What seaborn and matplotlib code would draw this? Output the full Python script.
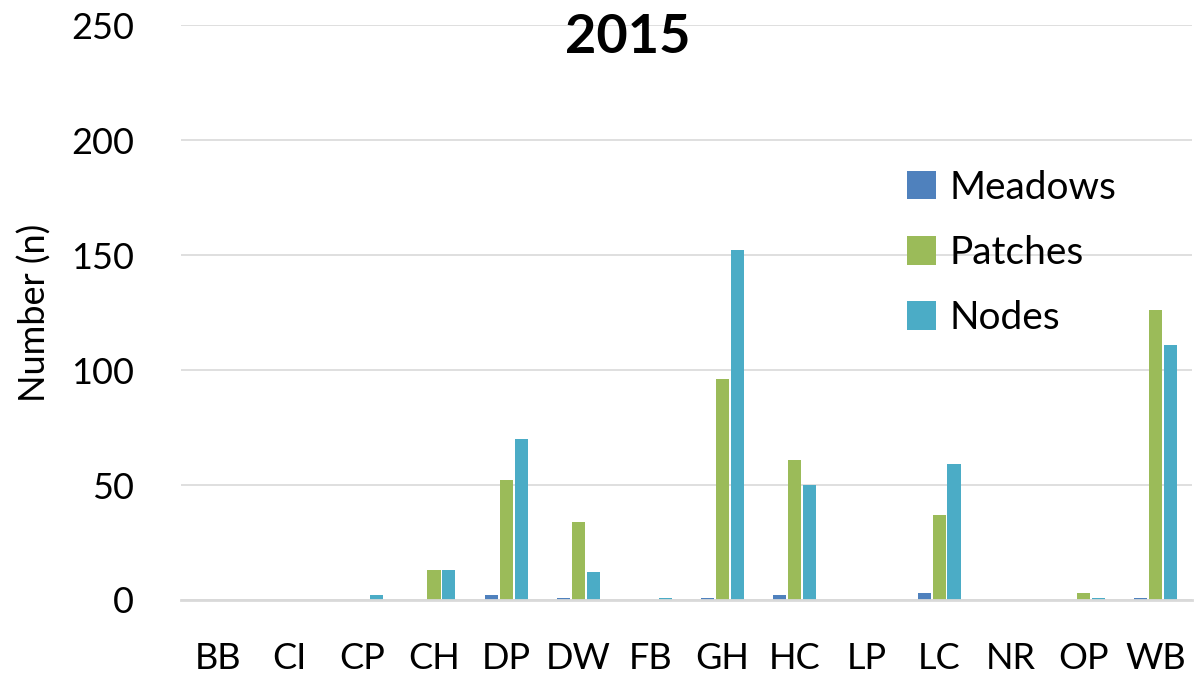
import pandas as pd
import matplotlib.pyplot as plt
import seaborn as sns

# Data
sites = ['BB', 'CI', 'CP', 'CH', 'DP', 'DW', 'FB', 'GH', 'HC', 'LP', 'LC', 'NR', 'OP', 'WB']
meadows = [0, 0, 0, 0, 2, 1, 0, 1, 2, 0, 3, 0, 0, 1]
patches = [0, 0, 0, 13, 52, 34, 0, 96, 61, 0, 37, 0, 3, 126]
nodes = [0, 0, 2, 13, 70, 12, 1, 152, 50, 0, 59, 0, 1, 111]

series = ['Meadows', 'Patches', 'Nodes']
warna = ['#4F81BD', '#9BBB59', '#4BACC6']

data = pd.DataFrame({
    'Site': sites * 3,
    'Series': [s for s in series for _ in sites],
    'Value': meadows + patches + nodes,
})

sns.set_theme(style='white')
plt.rcParams['font.family'] = ['Lato', 'DejaVu Sans']
plt.rcParams['text.color'] = 'black'

fig = plt.figure(figsize=(11.94, 6.74), dpi=100)
ax = fig.add_axes([0.152, 0.1098, 0.846, 0.853])

sns.barplot(data=data, x='Site', y='Value', hue='Series', order=sites,
            hue_order=series, palette=warna, saturation=1, width=0.62, gap=0.12,
            linewidth=0, ax=ax)

ax.set_ylim(0, 250)
ax.set_yticks(range(0, 251, 50))
ax.yaxis.grid(True, color='#D9D9D9', linewidth=1.2)
ax.set_axisbelow(True)
for side in ['top', 'right', 'left']:
    ax.spines[side].set_visible(False)
ax.spines['bottom'].set_color('#D9D9D9')
ax.spines['bottom'].set_linewidth(2)
ax.tick_params(axis='both', length=0, labelsize=26, colors='black')
ax.tick_params(axis='x', pad=30)
ax.tick_params(axis='y', pad=34)
ax.set_xlabel('')
ax.set_ylabel('Number (n)', fontsize=26, labelpad=14, color='black')

fig.text(0.526, 0.945, '2015', fontsize=39, fontweight='bold', ha='center', va='center')

ax.legend(loc='upper left', bbox_to_anchor=(0.73, 0.8), bbox_transform=fig.transFigure,
          frameon=False, fontsize=28, labelspacing=0.75, handlelength=0.75,
          handleheight=0.75, handletextpad=0.35)

plt.savefig('out.png', dpi=100)
